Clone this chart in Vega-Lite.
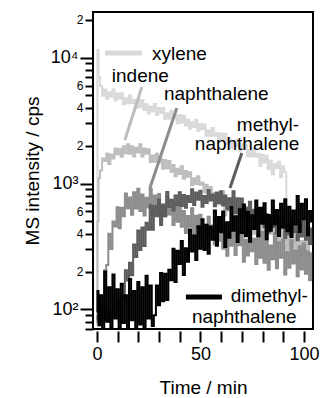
{
"$schema": "https://vega.github.io/schema/vega-lite/v6.json",
"width": 220, "height": 317,
"autosize": {"type": "none"},
"padding": {"left": 93, "top": 12, "right": 8, "bottom": 69},
"background": "white",
"datasets": {
"traces": [
{"t":0,"xy":80,"ind":75,"nap":85,"mn":90,"dmn":95},
{"t":0.5,"xy":11500,"ind":500,"nap":80,"mn":85,"dmn":140},
{"t":1,"xy":7000,"ind":1100,"nap":90,"mn":95,"dmn":75},
{"t":2,"xy":5940,"ind":1270,"nap":100,"mn":80,"dmn":130},
{"t":3,"xy":4980,"ind":1580,"nap":105,"mn":100,"dmn":70},
{"t":4,"xy":5570,"ind":1510,"nap":205,"mn":85,"dmn":200},
{"t":5,"xy":4680,"ind":1730,"nap":226,"mn":105,"dmn":80},
{"t":6,"xy":5290,"ind":1430,"nap":399,"mn":80,"dmn":150},
{"t":7,"xy":4880,"ind":1700,"nap":302,"mn":95,"dmn":72},
{"t":8,"xy":5570,"ind":1580,"nap":500,"mn":90,"dmn":190},
{"t":9,"xy":4560,"ind":1900,"nap":456,"mn":100,"dmn":85},
{"t":10,"xy":5190,"ind":1710,"nap":649,"mn":118,"dmn":145},
{"t":11,"xy":4740,"ind":1880,"nap":442,"mn":80,"dmn":70},
{"t":12,"xy":5210,"ind":1630,"nap":642,"mn":127,"dmn":160},
{"t":13,"xy":4250,"ind":1980,"nap":550,"mn":119,"dmn":78},
{"t":14,"xy":4750,"ind":1740,"nap":835,"mn":205,"dmn":130},
{"t":15,"xy":4320,"ind":2050,"nap":635,"mn":170,"dmn":68},
{"t":16,"xy":4990,"ind":1720,"nap":775,"mn":235,"dmn":175},
{"t":17,"xy":4350,"ind":1980,"nap":565,"mn":187,"dmn":82},
{"t":18,"xy":4600,"ind":1640,"nap":854,"mn":328,"dmn":140},
{"t":19,"xy":3970,"ind":1920,"nap":634,"mn":261,"dmn":70},
{"t":20,"xy":4600,"ind":1760,"nap":907,"mn":423,"dmn":165},
{"t":21,"xy":4030,"ind":2050,"nap":604,"mn":297,"dmn":76},
{"t":22,"xy":4600,"ind":1640,"nap":817,"mn":448,"dmn":150},
{"t":23,"xy":3830,"ind":1900,"nap":557,"mn":319,"dmn":72},
{"t":24,"xy":4260,"ind":1720,"nap":771,"mn":489,"dmn":185},
{"t":25,"xy":3600,"ind":1870,"nap":644,"mn":430,"dmn":85},
{"t":26,"xy":4070,"ind":1480,"nap":908,"mn":672,"dmn":155},
{"t":27,"xy":3740,"ind":1670,"nap":570,"mn":429,"dmn":74},
{"t":28,"xy":4270,"ind":1490,"nap":803,"mn":661,"dmn":90},
{"t":29,"xy":3500,"ind":1720,"nap":649,"mn":551,"dmn":155},
{"t":30,"xy":3980,"ind":1470,"nap":827,"mn":748,"dmn":108},
{"t":31,"xy":3630,"ind":1560,"nap":514,"mn":469,"dmn":195},
{"t":32,"xy":3980,"ind":1310,"nap":684,"mn":671,"dmn":116},
{"t":33,"xy":3240,"ind":1540,"nap":547,"mn":552,"dmn":192},
{"t":34,"xy":3620,"ind":1320,"nap":784,"mn":856,"dmn":119},
{"t":35,"xy":3290,"ind":1510,"nap":567,"mn":650,"dmn":207},
{"t":36,"xy":3800,"ind":1240,"nap":664,"mn":742,"dmn":171},
{"t":37,"xy":3300,"ind":1400,"nap":468,"mn":612,"dmn":303},
{"t":38,"xy":3480,"ind":1140,"nap":688,"mn":803,"dmn":165},
{"t":39,"xy":3000,"ind":1310,"nap":497,"mn":672,"dmn":293},
{"t":40,"xy":3480,"ind":1190,"nap":693,"mn":851,"dmn":230},
{"t":41,"xy":3040,"ind":1370,"nap":454,"mn":663,"dmn":349},
{"t":42,"xy":3470,"ind":1090,"nap":604,"mn":812,"dmn":188},
{"t":43,"xy":2890,"ind":1260,"nap":405,"mn":642,"dmn":307},
{"t":44,"xy":3210,"ind":1130,"nap":552,"mn":796,"dmn":239},
{"t":45,"xy":2720,"ind":1230,"nap":454,"mn":715,"dmn":432},
{"t":46,"xy":3070,"ind":970,"nap":636,"mn":899,"dmn":288},
{"t":47,"xy":2810,"ind":1100,"nap":397,"mn":674,"dmn":386},
{"t":48,"xy":3210,"ind":990,"nap":556,"mn":847,"dmn":247},
{"t":49,"xy":2610,"ind":1140,"nap":447,"mn":745,"dmn":459},
{"t":50,"xy":2970,"ind":980,"nap":566,"mn":875,"dmn":304},
{"t":51,"xy":2700,"ind":1020,"nap":353,"mn":655,"dmn":521},
{"t":52,"xy":2940,"ind":850,"nap":471,"mn":795,"dmn":296},
{"t":53,"xy":2390,"ind":980,"nap":379,"mn":699,"dmn":471},
{"t":54,"xy":2650,"ind":830,"nap":545,"mn":889,"dmn":277},
{"t":55,"xy":2400,"ind":940,"nap":396,"mn":732,"dmn":456},
{"t":56,"xy":2760,"ind":750,"nap":465,"mn":817,"dmn":358},
{"t":57,"xy":2390,"ind":840,"nap":329,"mn":660,"dmn":610},
{"t":58,"xy":2520,"ind":680,"nap":485,"mn":850,"dmn":320},
{"t":59,"xy":2160,"ind":770,"nap":352,"mn":699,"dmn":542},
{"t":60,"xy":2490,"ind":680,"nap":535,"mn":870,"dmn":410},
{"t":61,"xy":2180,"ind":870,"nap":304,"mn":668,"dmn":600},
{"t":62,"xy":2480,"ind":560,"nap":454,"mn":804,"dmn":313},
{"t":63,"xy":2060,"ind":760,"nap":267,"mn":626,"dmn":492},
{"t":64,"xy":2280,"ind":610,"nap":413,"mn":765,"dmn":371},
{"t":65,"xy":1920,"ind":740,"nap":320,"mn":675,"dmn":651},
{"t":66,"xy":2150,"ind":460,"nap":511,"mn":867,"dmn":422},
{"t":67,"xy":1980,"ind":610,"nap":271,"mn":584,"dmn":551},
{"t":68,"xy":2240,"ind":500,"nap":433,"mn":764,"dmn":344},
{"t":69,"xy":1830,"ind":670,"nap":324,"mn":633,"dmn":625},
{"t":70,"xy":2070,"ind":510,"nap":451,"mn":761,"dmn":405},
{"t":71,"xy":1870,"ind":580,"nap":239,"mn":514,"dmn":683},
{"t":72,"xy":2040,"ind":410,"nap":358,"mn":645,"dmn":381},
{"t":73,"xy":1650,"ind":590,"nap":268,"mn":535,"dmn":596},
{"t":74,"xy":1830,"ind":430,"nap":445,"mn":716,"dmn":345},
{"t":75,"xy":1650,"ind":580,"nap":290,"mn":547,"dmn":561},
{"t":76,"xy":1890,"ind":400,"nap":365,"mn":620,"dmn":436},
{"t":77,"xy":1630,"ind":520,"nap":230,"mn":465,"dmn":734},
{"t":78,"xy":1720,"ind":350,"nap":395,"mn":636,"dmn":381},
{"t":79,"xy":1380,"ind":480,"nap":257,"mn":487,"dmn":641},
{"t":80,"xy":1690,"ind":400,"nap":412,"mn":639,"dmn":480},
{"t":81,"xy":1470,"ind":540,"nap":235,"mn":452,"dmn":697},
{"t":82,"xy":1660,"ind":350,"nap":352,"mn":570,"dmn":361},
{"t":83,"xy":1300,"ind":490,"nap":207,"mn":411,"dmn":563},
{"t":84,"xy":1520,"ind":400,"nap":322,"mn":530,"dmn":421},
{"t":85,"xy":1180,"ind":490,"nap":250,"mn":451,"dmn":734},
{"t":86,"xy":1430,"ind":310,"nap":401,"mn":595,"dmn":473},
{"t":87,"xy":1320,"ind":420,"nap":213,"mn":405,"dmn":615},
{"t":88,"xy":1490,"ind":340,"nap":342,"mn":534,"dmn":383},
{"t":89,"xy":1120,"ind":470,"nap":257,"mn":447,"dmn":692},
{"t":90,"xy":1370,"ind":360,"nap":358,"mn":543,"dmn":447},
{"t":91,"xy":1230,"ind":410,"nap":190,"mn":370,"dmn":751},
{"t":92,"xy":460,"ind":290,"nap":285,"mn":469,"dmn":418},
{"t":93,"xy":null,"ind":420,"nap":214,"mn":393,"dmn":653},
{"t":94,"xy":null,"ind":310,"nap":355,"mn":530,"dmn":377},
{"t":95,"xy":null,"ind":420,"nap":232,"mn":410,"dmn":611},
{"t":96,"xy":null,"ind":290,"nap":292,"mn":469,"dmn":474},
{"t":97,"xy":null,"ind":380,"nap":184,"mn":355,"dmn":796},
{"t":98,"xy":null,"ind":260,"nap":317,"mn":490,"dmn":412},
{"t":99,"xy":null,"ind":350,"nap":208,"mn":379,"dmn":692},
{"t":100,"xy":null,"ind":290,"nap":334,"mn":501,"dmn":517},
{"t":101,"xy":null,"ind":400,"nap":192,"mn":357,"dmn":751},
{"t":102,"xy":null,"ind":260,"nap":289,"mn":455,"dmn":388},
{"t":103,"xy":null,"ind":360,"nap":171,"mn":331,"dmn":606},
{"t":104,"xy":null,"ind":330,"nap":280,"mn":440,"dmn":500}
],
"legendlines": [
{"s":"xy","t":3.9,"val":10860,"t2":21.7,"val2":10860},
{"s":"dmn","t":43.0,"val":125.7,"t2":60.4,"val2":125.7}
],
"pointers": [
{"s":"ind","t":21.7,"val":5840,"t2":13.5,"val2":2216},
{"s":"nap","t":38.6,"val":3978,"t2":25.6,"val2":921},
{"s":"mn","t":70.0,"val":1748,"t2":64.3,"val2":921}
],
"labels": [
{"label":"xylene","t":26.6,"val":9570},
{"label":"indene","t":7.2,"val":6400},
{"label":"naphthalene","t":32.4,"val":4600},
{"label":"methyl-","t":67.6,"val":2612},
{"label":"naphthalene","t":47.3,"val":1846},
{"label":"dimethyl-","t":64.7,"val":114.7},
{"label":"naphthalene","t":45.9,"val":78.1}
]
},
"encoding": {
"x": {"field": "t", "type": "quantitative",
 "scale": {"domain": [-1.9, 104.4], "nice": false, "zero": false},
 "axis": {"title": "Time / min", "values": [0,10,20,30,40,50,60,70,80,90,100],
  "labelExpr": "(datum.value == 0 || datum.value == 50 || datum.value == 100) ? datum.label : ''",
  "tickSize": 11, "tickWidth": 2, "tickColor": "#000000", "ticks": true, "offset": 2,
  "labelPadding": 3, "titlePadding": 15, "labelOverlap": false, "labelFlush": false, "labelBound": false,
  "labelFontSize": 18, "titleFontWeight": "normal", "titleFontSize": 19}},
"y": {"field": "val", "type": "quantitative",
 "scale": {"type": "log", "domain": [70, 23000], "nice": false},
 "axis": {"title": "MS intensity / cps",
  "values": [70,80,90,100,200,300,400,500,600,700,800,900,1000,2000,3000,4000,5000,6000,7000,8000,9000,10000,20000],
  "labelExpr": "datum.value==100?'10²':datum.value==1000?'10³':datum.value==10000?'10⁴':(datum.value==200||datum.value==2000||datum.value==20000)?'2':(datum.value==400||datum.value==4000)?'4':(datum.value==600||datum.value==6000)?'6':''",
  "labelFontSize": {"condition": {"test": "datum.value==100||datum.value==1000||datum.value==10000", "value": 18}, "value": 12},
  "tickSize": {"condition": {"test": "datum.value==100||datum.value==1000||datum.value==10000", "value": 13}, "value": 8},
  "labelPadding": 2, "titlePadding": 8, "labelOverlap": false, "labelFlush": false, "labelBound": false,
  "titleFontWeight": "normal", "titleFontSize": 19}}
},
"layer": [
{
"data": {"name": "traces"},
"transform": [{"fold": ["xy"], "as": ["s", "val"]}],
"mark": {"type": "line", "color": "#d9d9d9", "strokeWidth": 2, "interpolate": "step", "clip": true}
},
{
"data": {"name": "traces"},
"transform": [{"fold": ["ind"], "as": ["s", "val"]}],
"mark": {"type": "line", "color": "#bdbdbd", "strokeWidth": 2, "interpolate": "step", "clip": true}
},
{
"data": {"name": "traces"},
"transform": [{"fold": ["nap"], "as": ["s", "val"]}],
"mark": {"type": "line", "color": "#8c8c8c", "strokeWidth": 2, "interpolate": "step", "clip": true}
},
{
"data": {"name": "traces"},
"transform": [{"fold": ["mn"], "as": ["s", "val"]}],
"mark": {"type": "line", "color": "#5c5c5c", "strokeWidth": 2, "interpolate": "step", "clip": true}
},
{
"data": {"name": "traces"},
"transform": [{"fold": ["dmn"], "as": ["s", "val"]}],
"mark": {"type": "line", "color": "#000000", "strokeWidth": 2, "interpolate": "step", "clip": true}
},
{
"data": {"name": "legendlines"},
"mark": {"type": "rule", "strokeWidth": 5},
"encoding": {
"x2": {"field": "t2"},
"y2": {"field": "val2"},
"color": {"field": "s", "type": "nominal", "scale": {"domain": ["xy","ind","nap","mn","dmn"], "range": ["#d9d9d9","#bdbdbd","#8c8c8c","#5c5c5c","#000000"]}, "legend": null}
}
},
{
"data": {"name": "pointers"},
"mark": {"type": "rule", "strokeWidth": 3},
"encoding": {
"x2": {"field": "t2"},
"y2": {"field": "val2"},
"color": {"field": "s", "type": "nominal", "scale": {"domain": ["xy","ind","nap","mn","dmn"], "range": ["#d9d9d9","#bdbdbd","#8c8c8c","#5c5c5c","#000000"]}, "legend": null}
}
},
{
"data": {"name": "labels"},
"mark": {"type": "text", "align": "left", "baseline": "alphabetic", "fontSize": 19, "font": "Liberation Sans", "color": "black"},
"encoding": {
"text": {"field": "label", "type": "nominal"}
}
}
],
"config": {
"font": "Liberation Sans",
"view": {"stroke": "black", "strokeWidth": 2},
"axis": {"domain": false, "grid": false, "tickColor": "black", "tickWidth": 2, "labelColor": "black", "titleColor": "black", "labelFont": "Liberation Sans", "titleFont": "Liberation Sans", "titleFontWeight": "normal", "titleFontSize": 19, "labelFontSize": 18}
}
}
